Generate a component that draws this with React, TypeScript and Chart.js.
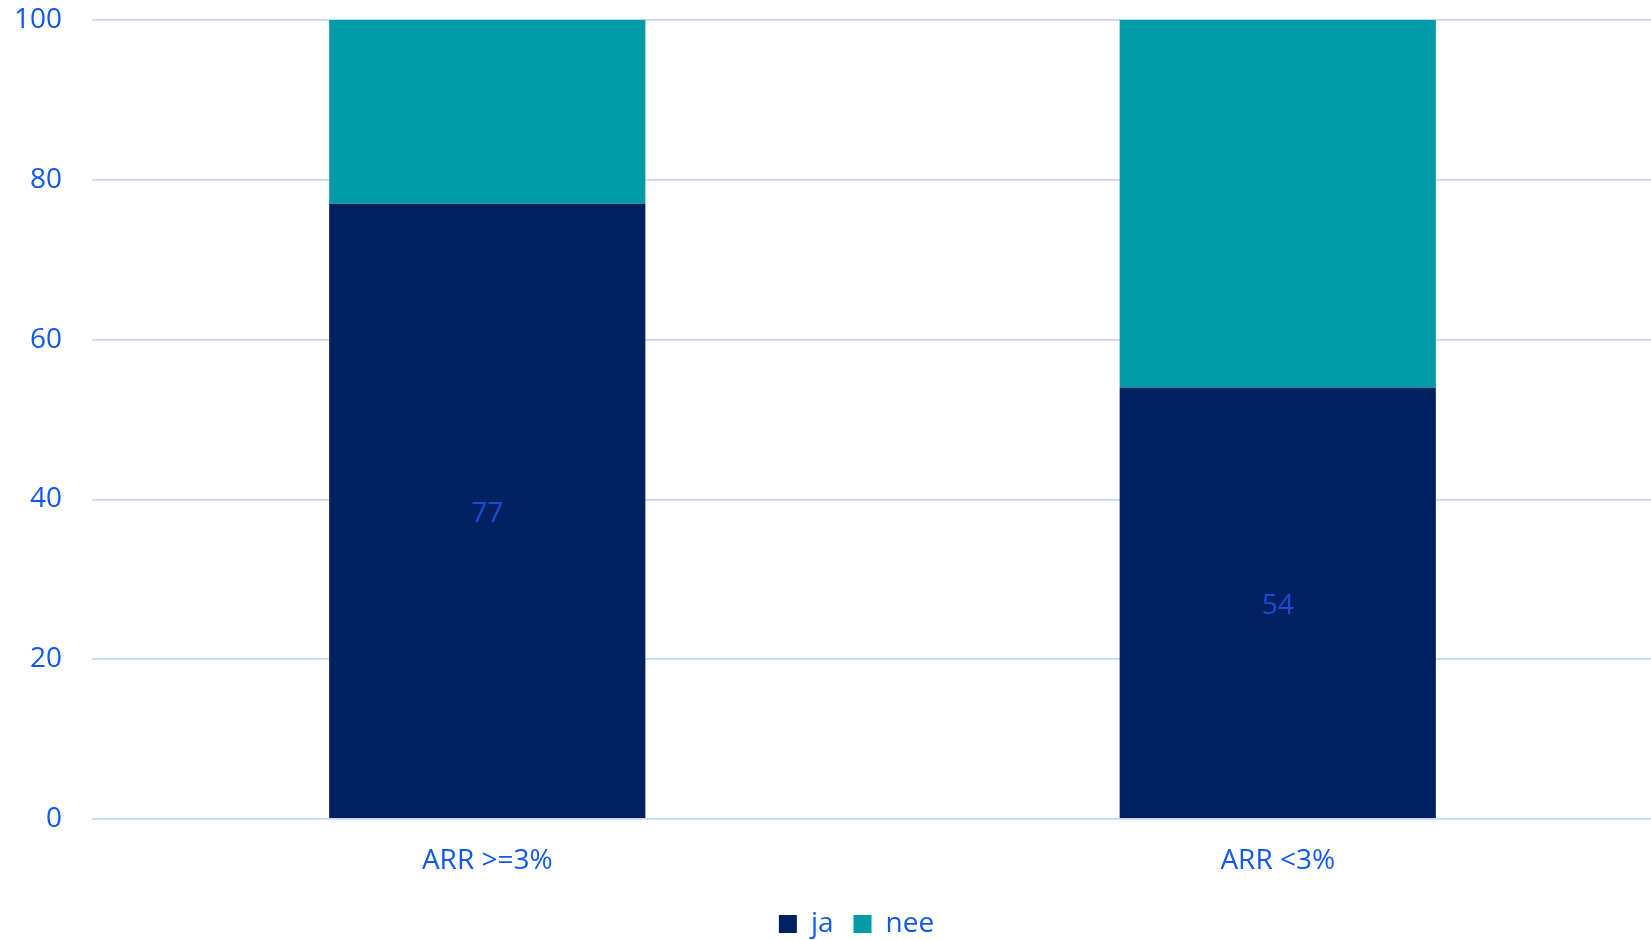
import React, { useEffect, useRef } from "react";
import { Chart, registerables } from "chart.js";

Chart.register(...registerables);

const categories = ["ARR >=3%", "ARR <3%"];
const jaValues = [77, 54];
const neeValues = [23, 46];
const yTicks = [0, 20, 40, 60, 80, 100];

const NAVY = "#002060";
const TEAL = "#009BA7";
const TEXT = "#1058F0";
const LABEL = "#1A4BD6";
const GRID = "#C5D6F7";
const FONT = "'Open Sans', 'Noto Sans', sans-serif";
const PLOT_TOP = 20;

const valueLabels = {
  id: "valueLabels",
  afterDatasetsDraw(chart: any) {
    const ctx = chart.ctx;
    const meta = chart.getDatasetMeta(0);
    ctx.save();
    ctx.fillStyle = LABEL;
    ctx.font = `28px ${FONT}`;
    ctx.textAlign = "center";
    ctx.textBaseline = "middle";
    meta.data.forEach((bar: any, i: number) => {
      const yMid = (bar.y + bar.base) / 2;
      ctx.fillText(String(jaValues[i]), bar.x, yMid + 3);
    });
    ctx.restore();
  },
};

const layoutTweak = {
  id: "layoutTweak",
  afterLayout(chart: any) {
    const lg = chart.legend;
    if (lg) {
      lg.left += 20;
      lg.right += 20;
    }
    const y = chart.scales.y;
    if (y && y.top !== PLOT_TOP) {
      y.top = PLOT_TOP;
      y.height = y.bottom - PLOT_TOP;
      y.paddingTop = 0;
      y.configure();
      chart.chartArea.top = PLOT_TOP;
      chart.chartArea.height = chart.chartArea.bottom - PLOT_TOP;
    }
  },
};

export default function App() {
  const ref = useRef<HTMLCanvasElement | null>(null);

  useEffect(() => {
    if (!ref.current) return;
    const chart = new Chart(ref.current, {
      type: "bar",
      data: {
        labels: categories,
        datasets: [
          {
            label: "ja",
            data: jaValues,
            backgroundColor: NAVY,
            borderWidth: 0,
            barPercentage: 0.4,
            categoryPercentage: 1,
          },
          {
            label: "nee",
            data: neeValues,
            backgroundColor: TEAL,
            borderWidth: 0,
            barPercentage: 0.4,
            categoryPercentage: 1,
          },
        ],
      },
      options: {
        animation: false,
        responsive: false,
        maintainAspectRatio: false,
        layout: {
          autoPadding: false,
          padding: { top: 20, right: 0, bottom: -8, left: 0 },
        },
        plugins: {
          legend: {
            position: "bottom",
            labels: {
              color: TEXT,
              font: { family: FONT, size: 28 },
              boxWidth: 18,
              boxHeight: 18,
              padding: 20,
            },
          },
          tooltip: { enabled: false },
        },
        scales: {
          x: {
            stacked: true,
            grid: { display: false, drawTicks: false },
            border: { display: false },
            ticks: {
              color: TEXT,
              font: { family: FONT, size: 28 },
              padding: 25,
              maxRotation: 0,
            },
            afterFit: (s: any) => {
              s.height = 71;
            },
          },
          y: {
            stacked: true,
            min: 0,
            max: 100,
            afterBuildTicks: (s: any) => {
              s.ticks = yTicks.map((v) => ({ value: v }));
            },
            grid: { color: GRID, lineWidth: 1.8, drawTicks: false },
            border: { display: false },
            ticks: {
              color: TEXT,
              font: { family: FONT, size: 28 },
              padding: 30,
            },
            afterFit: (s: any) => {
              s.width = 92;
            },
          },
        },
      },
      plugins: [valueLabels, layoutTweak],
    });
    return () => chart.destroy();
  }, []);

  return (
    <div
      style={{
        position: "fixed",
        left: 0,
        top: 0,
        width: 1651,
        height: 940,
        overflow: "hidden",
        background: "#fff",
      }}
    >
      <canvas ref={ref} width={1673} height={940} style={{ width: 1673, height: 940 }} />
    </div>
  );
}
